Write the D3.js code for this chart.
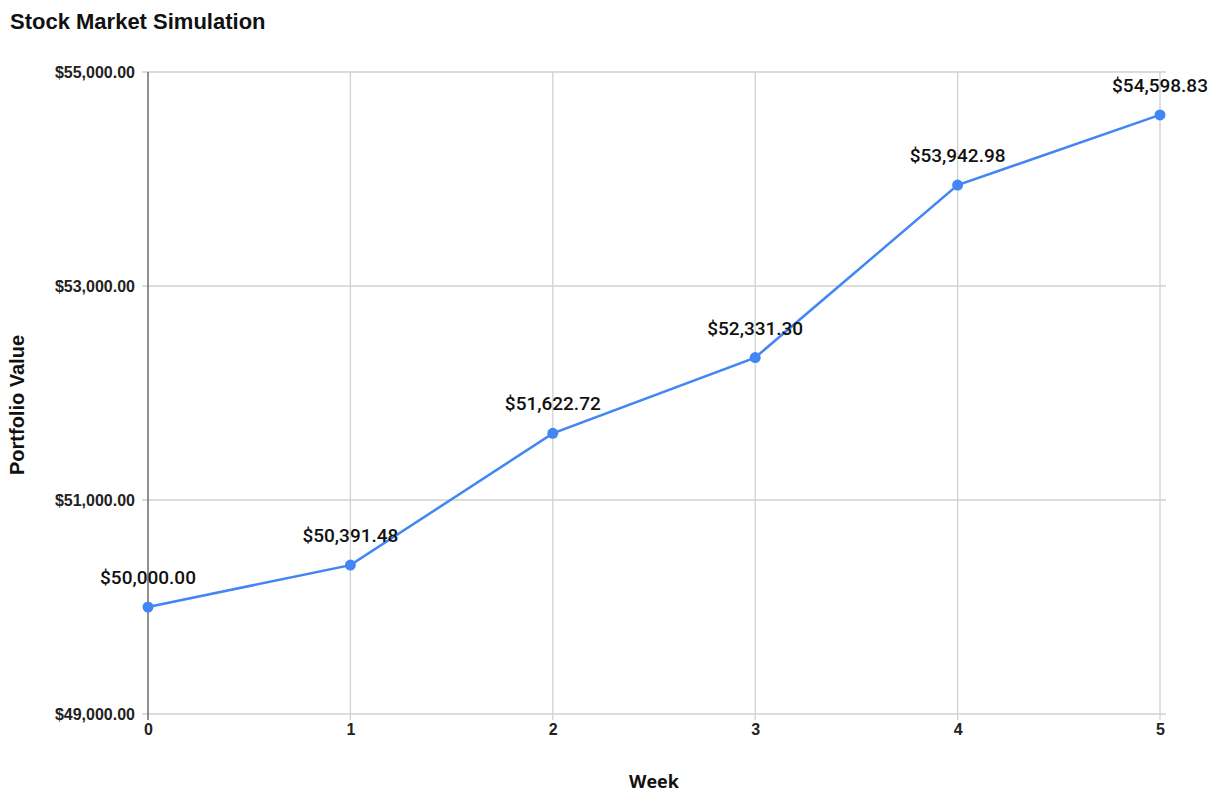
<!DOCTYPE html>
<html><head><meta charset="utf-8">
<script src="https://cdn.jsdelivr.net/npm/d3@7"></script>
<style>body{margin:0;background:#fff}</style>
</head><body>
<svg id="c" width="1215" height="792"></svg>
<script>
const weeks = [0, 1, 2, 3, 4, 5];
const values = [50000.00, 50391.48, 51622.72, 52331.30, 53942.98, 54598.83];
const yTicks = [49000, 51000, 53000, 55000];

const svg = d3.select("#c");
const m = {l: 148, r: 1160, t: 72, b: 714};
const x = d3.scaleLinear().domain([0, 5]).range([m.l, m.r]);
const y = d3.scaleLinear().domain([49000, 55000]).range([m.b, m.t]);
const fmt = d3.format("$,.2f");

// horizontal grid
svg.append("g").selectAll("line").data(yTicks).join("line")
  .attr("x1", m.l - 6).attr("x2", m.r + 6)
  .attr("y1", d => y(d)).attr("y2", d => y(d))
  .attr("stroke", "#d0d0d0").attr("stroke-width", 1.3);
// vertical grid
svg.append("g").selectAll("line").data(weeks.slice(1)).join("line")
  .attr("x1", d => x(d)).attr("x2", d => x(d))
  .attr("y1", m.t).attr("y2", m.b + 6)
  .attr("stroke", "#d0d0d0").attr("stroke-width", 1.3);
// y axis line
svg.append("line").attr("x1", m.l).attr("x2", m.l).attr("y1", m.t).attr("y2", m.b + 6)
  .attr("stroke", "#555").attr("stroke-width", 1.3);

// y tick labels
const ya = svg.append("g").attr("transform", `translate(${m.l - 13},0)`)
  .call(d3.axisLeft(y).tickValues(yTicks).tickFormat(fmt).tickSize(0).tickPadding(0));
ya.select(".domain").remove();
ya.selectAll("text").attr("font-family", "Liberation Sans, Arial, sans-serif")
  .attr("font-weight", "bold").attr("font-size", 16).attr("fill", "#222");

// x tick labels
const xa = svg.append("g").attr("transform", `translate(0,${m.b + 10})`)
  .call(d3.axisBottom(x).tickValues(weeks).tickFormat(d3.format("d")).tickSize(0).tickPadding(0));
xa.select(".domain").remove();
xa.selectAll("text").attr("font-family", "Liberation Sans, Arial, sans-serif")
  .attr("font-weight", "bold").attr("font-size", 16).attr("fill", "#222");

// line
const data = weeks.map((w, i) => ({w, v: values[i]}));
svg.append("path").datum(data)
  .attr("d", d3.line().x(d => x(d.w)).y(d => y(d.v)))
  .attr("fill", "none").attr("stroke", "#4285F4").attr("stroke-width", 2.5);
svg.append("g").selectAll("circle").data(data).join("circle")
  .attr("cx", d => x(d.w)).attr("cy", d => y(d.v)).attr("r", 5.5).attr("fill", "#4285F4");

// data labels
svg.append("g").selectAll("text").data(data).join("text")
  .attr("x", d => x(d.w)).attr("y", d => y(d.v) - 23)
  .attr("text-anchor", "middle")
  .attr("font-family", "Roboto, sans-serif").attr("font-weight", 500).attr("font-size", 19)
  .attr("fill", "#111").text(d => fmt(d.v));

// title
svg.append("text").attr("x", 10).attr("y", 29)
  .attr("font-family", "Liberation Sans, Arial, sans-serif").attr("font-weight", "bold")
  .attr("font-size", 22).attr("fill", "#111").text("Stock Market Simulation");

// axis titles
svg.append("text").attr("x", 654).attr("y", 788).attr("text-anchor", "middle")
  .attr("font-family", "Open Sans, sans-serif").attr("font-weight", "bold")
  .attr("font-size", 18).attr("fill", "#111").text("Week");
svg.append("text").attr("transform", "translate(24,405) rotate(-90)").attr("text-anchor", "middle")
  .attr("font-family", "Liberation Sans, Arial, sans-serif").attr("font-weight", "bold")
  .attr("font-size", 20).attr("fill", "#111").text("Portfolio Value");
</script>
</body></html>
